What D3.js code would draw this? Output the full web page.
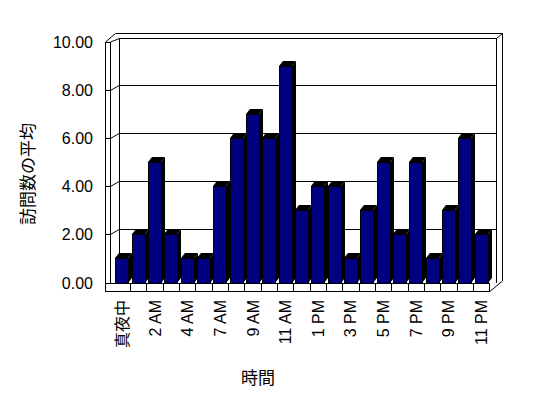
<!DOCTYPE html>
<html>
<head>
<meta charset="utf-8">
<script src="https://cdn.jsdelivr.net/npm/d3@7"></script>
<style>
  body { margin: 0; background: #fff; }
  text { font-family: "Liberation Sans", "Noto Sans CJK JP", sans-serif; fill: #000; }
</style>
</head>
<body>
<div id="chart"></div>
<script>
// hours of the day (6 AM has no row in the source sheet)
var categories = ["真夜中", "1 AM", "2 AM", "3 AM", "4 AM", "5 AM", "7 AM", "8 AM", "9 AM", "10 AM", "11 AM", "正午",
  "1 PM", "2 PM", "3 PM", "4 PM", "5 PM", "6 PM", "7 PM", "8 PM", "9 PM", "10 PM", "11 PM"];
var visits = [1, 2, 5, 2, 1, 1, 4, 6, 7, 6, 9, 3, 4, 4, 1, 3, 5, 2, 5, 1, 3, 6, 2];
var yTicks = [0, 2, 4, 6, 8, 10];
var yTickLabels = ["0.00", "2.00", "4.00", "6.00", "8.00", "10.00"];
var xTitle = "時間", yTitle = "訪問数の平均";

var width = 548, height = 398;

// box geometry, hand tuned against the picture
var axisX = 105, floorTop = 283, floorBottom = 291;
var back = {left: 119, right: 496, top: 38};
var wallT = 6;           // wall thickness (drawn as a diagonal offset)
var barDepth = {dx: 4, dy: -5};

var x = d3.scaleBand().domain(categories).range([113.7, 489.3]).paddingInner(0).paddingOuter(0);
var y = d3.scaleLinear().domain([0, 10]).range([282.5, 42]);
var yBack = function(v) { return y(v) - 5; };

var svg = d3.select("#chart").append("svg")
  .attr("width", width).attr("height", height);

var line = function(x1, y1, x2, y2) {
  svg.append("line").attr("x1", x1).attr("y1", y1).attr("x2", x2).attr("y2", y2)
    .attr("stroke", "#000").attr("stroke-width", 1).attr("shape-rendering", "crispEdges");
};

// walls
line(axisX + 0.5, y(10), axisX + 0.5, floorBottom);
line(axisX + 5.5, y(10), axisX + 5.5, floorTop);
line(axisX, y(10) + 0.5, axisX + 5, y(10) + 0.5);
svg.append("path").attr("fill", "none").attr("stroke", "#000")
  .attr("d", "M" + (axisX + 0.5) + "," + y(10) + "L" + (axisX + 10.5) + "," + (back.top - 5 + 0.5) +
    "L" + (back.right + wallT + 0.5) + "," + (back.top - 5 + 0.5) +
    "L" + (back.right + wallT + 0.5) + "," + (floorTop - 2) +
    "L" + (x.range()[1] + 0.5) + "," + (floorBottom + 0.5));
svg.append("path").attr("fill", "none").attr("stroke", "#000")
  .attr("d", "M" + (axisX + 5.5) + "," + y(10) + "L" + (back.left + 0.5) + "," + (back.top + 0.5) +
    "L" + (back.right + 0.5) + "," + (back.top + 0.5) + "L" + (back.right + wallT + 0.5) + "," + (back.top - 5 + 0.5));
line(back.left + 0.5, back.top, back.left + 0.5, floorTop);
line(back.right + 0.5, back.top, back.right + 0.5, floorTop);

// gridlines on the back wall + diagonal ticks on the side wall
yTicks.filter(function(v) { return v > 0 && v < 10; }).forEach(function(v) {
  var yf = Math.round(y(v)) + 0.5, yb = Math.round(yBack(v)) + 0.5;
  line(back.left, yb, back.right, yb);
  svg.append("path").attr("fill", "none").attr("stroke", "#000")
    .attr("d", "M" + (axisX + 0.5) + "," + yf + "L" + (axisX + 5.5) + "," + yf + "L" + back.left + "," + yb);
});

// floor front face with category cells
svg.append("rect").attr("x", axisX + 0.5).attr("y", floorTop + 0.5)
  .attr("width", x.range()[1] - axisX).attr("height", floorBottom - floorTop)
  .attr("fill", "#fff").attr("stroke", "#000").attr("shape-rendering", "crispEdges");
categories.forEach(function(c, i) {
  if (i === 0) return;
  var cx = Math.round(x(c)) + 0.5;
  line(cx, floorTop, cx, floorBottom);
});
line(Math.round(x.range()[1]) + 0.5, floorTop, Math.round(x.range()[1]) + 0.5, floorBottom);

// bars
var bw = 13, inset = 1.6;
var bars = svg.append("g");
categories.forEach(function(c, i) {
  var bx = Math.round(x(c) + inset), top = Math.round(y(visits[i])), base = Math.round(y(0));
  var dx = barDepth.dx, dy = barDepth.dy;
  var g = bars.append("g");
  g.append("polygon").attr("fill", "#000")
    .attr("points", [[bx + bw, top], [bx + bw + dx, top + dy], [bx + bw + dx, base + dy], [bx + bw, base]].join(" "));
  g.append("polygon").attr("fill", "#000")
    .attr("points", [[bx, top], [bx + dx, top + dy], [bx + bw + dx, top + dy], [bx + bw, top]].join(" "));
  g.append("rect").attr("x", bx).attr("y", top).attr("width", bw).attr("height", base - top)
    .attr("fill", "#000080").attr("stroke", "#000").attr("stroke-width", 1)
    .attr("shape-rendering", "crispEdges");
});

// y axis labels
yTicks.forEach(function(v, i) {
  svg.append("text").attr("x", 93).attr("y", y(v) + 6)
    .attr("text-anchor", "end").attr("font-size", 16).text(yTickLabels[i]);
});

// x axis labels, every other category, rotated
categories.forEach(function(c, i) {
  if (i % 2) return;
  var cx = x(c) + x.bandwidth() / 2;
  svg.append("text").attr("transform", "translate(" + (cx + 6) + ",300) rotate(-90)")
    .attr("text-anchor", "end").attr("font-size", 16).text(c);
});

// titles
svg.append("text").attr("x", 258).attr("y", 384).attr("text-anchor", "middle")
  .attr("font-size", 17).text(xTitle);
svg.append("text").attr("transform", "translate(34,174) rotate(-90)").attr("text-anchor", "middle")
  .attr("font-size", 17).text(yTitle);
</script>
</body>
</html>
